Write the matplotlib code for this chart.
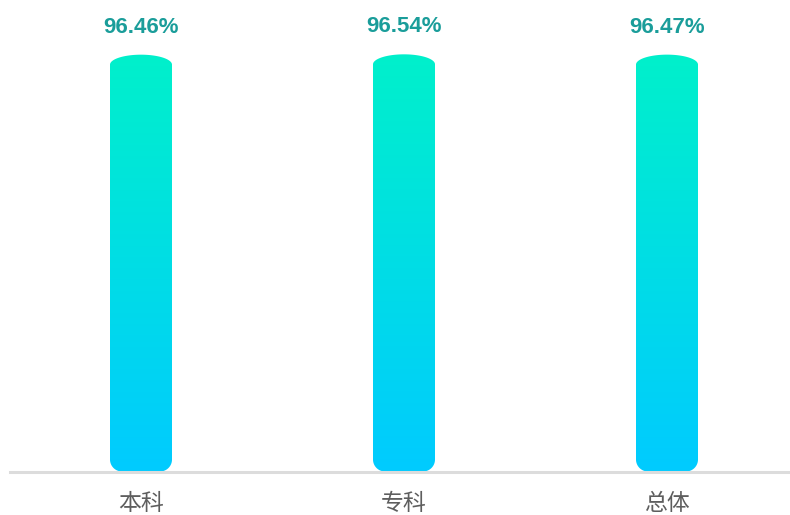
import numpy as np
import matplotlib
matplotlib.use("Agg")
import matplotlib.pyplot as plt
from matplotlib.path import Path
from matplotlib.patches import PathPatch
from matplotlib.colors import LinearSegmentedColormap

categories = ["本科", "专科", "总体"]
values = [96.46, 96.54, 96.47]
value_labels = ["96.46%", "96.54%", "96.47%"]

W, H, DPI = 790, 515, 100
fig = plt.figure(figsize=(W / DPI, H / DPI), dpi=DPI)

# layout in pixels
base_px = 471.5          # baseline y (from top)
px_per_x = 263.0         # distance between category centers
first_center = 141.0
left_px = 9.5
ymax = 100.0
px_per_y = (base_px - 54.5) / 96.5
top_px = base_px - ymax * px_per_y

ax = fig.add_axes([left_px / W, (H - base_px) / H, (W - left_px) / W, (base_px - top_px) / H])
x0 = -(first_center - left_px) / px_per_x
x1 = x0 + (W - left_px) / px_per_x
ax.set_xlim(x0, x1)
ax.set_ylim(0, ymax)
ax.axis("off")

cmap = LinearSegmentedColormap.from_list("g", ["#00CBFF", "#00F0CB"])
grad = np.linspace(0, 1, 256).reshape(-1, 1)

half_w = 31.0   # px
cap_b = 10.0    # px, dome height
r = 12.0        # px, bottom corner radius

for i, v in enumerate(values):
    hpx = v * px_per_y
    pts = []
    t = np.linspace(np.pi, 1.5 * np.pi, 20)
    pts += list(zip(-half_w + r + r * np.cos(t), r + r * np.sin(t)))
    t = np.linspace(1.5 * np.pi, 2 * np.pi, 20)
    pts += list(zip(half_w - r + r * np.cos(t), r + r * np.sin(t)))
    t = np.linspace(0, np.pi, 60)
    pts += list(zip(half_w * np.cos(t), hpx - cap_b + cap_b * np.sin(t)))
    pts = np.array(pts)
    xs = i + pts[:, 0] / px_per_x
    ys = pts[:, 1] / px_per_y
    verts = np.column_stack([xs, ys])
    verts = np.vstack([verts, verts[:1]])
    codes = [Path.MOVETO] + [Path.LINETO] * (len(verts) - 2) + [Path.CLOSEPOLY]
    patch = PathPatch(Path(verts, codes), facecolor="none", edgecolor="none")
    ax.add_patch(patch)
    im = ax.imshow(grad, cmap=cmap, origin="lower", aspect="auto",
                   extent=[i - half_w / px_per_x, i + half_w / px_per_x, 0, v],
                   interpolation="bilinear", zorder=2)
    im.set_clip_path(patch)

    ax.annotate(value_labels[i], xy=(i, v), xytext=(0, 27.5 * 72 / DPI),
                textcoords="offset points", ha="center", va="center",
                fontsize=16, fontweight="bold", color="#1A9D9A",
                family=["Liberation Sans", "DejaVu Sans"])
    ax.annotate(categories[i], xy=(i, 0), xytext=(0, -31.5 * 72 / DPI),
                textcoords="offset points", ha="center", va="center",
                fontsize=16.5, color="#5E5E5E",
                family=["Noto Sans CJK SC", "DejaVu Sans"], annotation_clip=False)

ax.set_xlim(x0, x1)
ax.set_ylim(0, ymax)
ax.axhline(0, color="#DCDCDC", lw=2.2, zorder=3, xmin=0, xmax=1, clip_on=False)

fig.savefig("out.png", dpi=DPI)
